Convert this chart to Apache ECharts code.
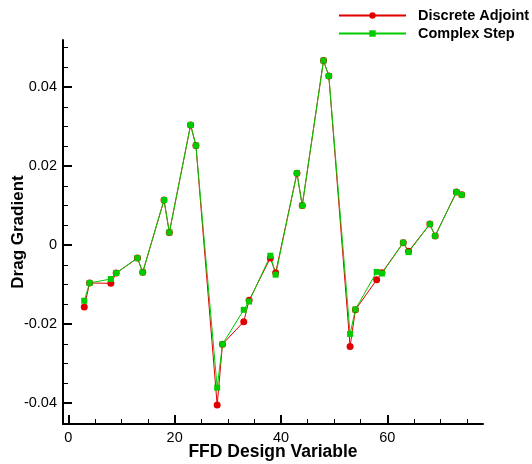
<!DOCTYPE html>
<html>
<head>
<meta charset="utf-8">
<script src="https://cdn.jsdelivr.net/npm/echarts@6/dist/echarts.min.js"></script>
<style>
  html, body { margin: 0; padding: 0; background: #fff; }
</style>
</head>
<body>
<div id="main" style="width: 532px; height: 464px"></div>
<script>
// FFD design variable index
const designVars = [3, 4, 8, 9, 13, 14, 18, 19, 23, 24, 28, 29, 33, 34, 38, 39, 43, 44, 48, 49, 53, 54, 58, 59, 63, 64, 68, 69, 73, 74];
const discreteAdjoint = [-0.0157, -0.0096, -0.0097, -0.0071, -0.0033, -0.0069, 0.0114, 0.0032, 0.0304, 0.0252, -0.0405, -0.0251, -0.0194, -0.0140, -0.0033, -0.0070, 0.0182, 0.0100, 0.0467, 0.0428, -0.0257, -0.0164, -0.0088, -0.0070, 0.0006, -0.0016, 0.0053, 0.0023, 0.0134, 0.0127];
const complexStep = [-0.0141, -0.0096, -0.0086, -0.0071, -0.0033, -0.0069, 0.0114, 0.0032, 0.0304, 0.0252, -0.0361, -0.0251, -0.0164, -0.0143, -0.0027, -0.0075, 0.0182, 0.0100, 0.0467, 0.0428, -0.0225, -0.0163, -0.0068, -0.0072, 0.0006, -0.0018, 0.0053, 0.0023, 0.0134, 0.0127];

// tick positions
const xMajor = [0, 20, 40, 60];
const xMinor = [5, 10, 15, 25, 30, 35, 45, 50, 55, 65, 70, 75];
const yMajor = [-0.04, -0.02, 0, 0.02, 0.04];
const yMinor = [-0.035, -0.03, -0.025, -0.015, -0.01, -0.005, 0.005, 0.01, 0.015, 0.025, 0.03, 0.035, 0.045, 0.05];

const font = "'Liberation Sans', Arial, Helvetica, sans-serif";
const xMin = -1, xMax = 78, yMin = -0.0453, yMax = 0.0519;
const box = { left: 63, right: 49, top: 40, bottom: 40, outerBoundsMode: "none", containLabel: false };

const pairs = (vals) => designVars.map((v, i) => [v, vals[i]]);

const myChart = echarts.init(document.getElementById("main"));
const option = {
  backgroundColor: "#fff",
  animation: false,
  // grid 1 only carries the minor ticks
  grid: [box, box],
  legend: {
    orient: "vertical",
    left: 333,
    top: 3,
    itemWidth: 67,
    itemHeight: 8,
    itemGap: 3,
    textStyle: {
      fontFamily: font,
      fontWeight: "bold",
      fontSize: 14.5,
      color: "#000",
      lineHeight: 14,
      padding: [0, 0, 0, 7],
    },
    data: ["Discrete Adjoint", "Complex Step"],
  },
  xAxis: [
    {
      type: "value",
      gridIndex: 0,
      min: xMin,
      max: xMax,
      name: "FFD Design Variable",
      nameLocation: "middle",
      nameGap: 19,
      nameMoveOverlap: false,
      nameTextStyle: { fontFamily: font, fontWeight: "bold", fontSize: 17.5, color: "#000" },
      axisLine: { show: true, onZero: false, lineStyle: { color: "#000", width: 2 } },
      axisTick: { show: true, inside: true, length: 9, customValues: xMajor, lineStyle: { color: "#000", width: 2 } },
      axisLabel: { customValues: xMajor, margin: 6, fontFamily: font, fontSize: 14.5, color: "#000" },
      splitLine: { show: false },
    },
    {
      type: "value",
      gridIndex: 1,
      min: xMin,
      max: xMax,
      position: "bottom",
      axisLine: { show: false, onZero: false },
      axisTick: { show: true, inside: true, length: 5, customValues: xMinor, lineStyle: { color: "#000", width: 1 } },
      axisLabel: { show: false },
      splitLine: { show: false },
    },
  ],
  yAxis: [
    {
      type: "value",
      gridIndex: 0,
      min: yMin,
      max: yMax,
      name: "Drag Gradient",
      nameLocation: "middle",
      nameGap: 36,
      nameMoveOverlap: false,
      nameTextStyle: { fontFamily: font, fontWeight: "bold", fontSize: 17, color: "#000" },
      axisLine: { show: true, onZero: false, lineStyle: { color: "#000", width: 2 } },
      axisTick: { show: true, inside: true, length: 9, customValues: yMajor, lineStyle: { color: "#000", width: 2 } },
      axisLabel: {
        customValues: yMajor,
        margin: 6,
        fontFamily: font,
        fontSize: 14.5,
        color: "#000",
        formatter: (v) => (v === 0 ? "0" : String(+v.toFixed(2))),
      },
      splitLine: { show: false },
    },
    {
      type: "value",
      gridIndex: 1,
      min: yMin,
      max: yMax,
      position: "left",
      axisLine: { show: false, onZero: false },
      axisTick: { show: true, inside: true, length: 5, customValues: yMinor, lineStyle: { color: "#000", width: 1 } },
      axisLabel: { show: false },
      splitLine: { show: false },
    },
  ],
  series: [
    {
      name: "Discrete Adjoint",
      type: "line",
      data: pairs(discreteAdjoint),
      symbol: "circle",
      symbolSize: 7,
      color: "#e00000",
      lineStyle: { width: 1, color: "#e00000" },
      itemStyle: { color: "#e00000" },
    },
    {
      name: "Complex Step",
      type: "line",
      data: pairs(complexStep),
      symbol: "rect",
      symbolSize: 6,
      color: "#00cc00",
      lineStyle: { width: 1, color: "#00cc00" },
      itemStyle: { color: "#00cc00" },
    },
  ],
};
myChart.setOption(option);
</script>
</body>
</html>
